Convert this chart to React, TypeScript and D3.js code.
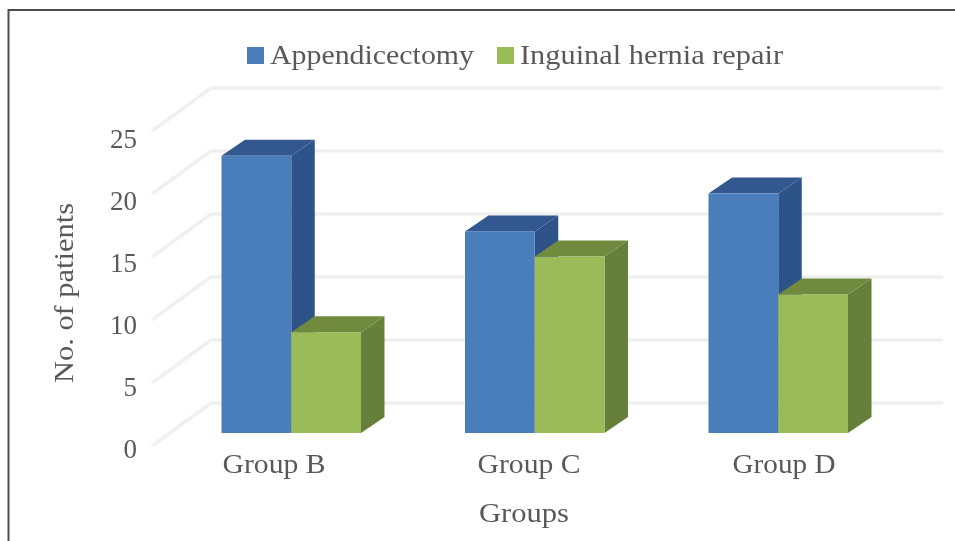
import React from "react";
import * as d3 from "d3";

const categories = ["Group B", "Group C", "Group D"];
const seriesNames = ["Appendicectomy", "Inguinal hernia repair"];
const appendicectomy = [22, 16, 19];
const herniaRepair = [8, 14, 11];
const yTicks = [0, 5, 10, 15, 20, 25];
const frontColors = ["#4a7ebb", "#9bbb59"];
const sideColors = ["#2f5388", "#66803a"];
const topColors = ["#33598f", "#6f8b3e"];

const FONT = "'Liberation Serif', serif";
const TEXT = "#595959";

export default function App() {
  const y = d3.scaleLinear().domain([0, 25]).range([433, 118]);
  const yLabel = d3.scaleLinear().domain([0, 25]).range([458, 148]);
  const x0 = d3.scaleBand<string>().domain(categories).range([169.5, 900]);
  const x1 = d3.scaleBand<string>().domain(seriesNames).range([0, 139.5]);
  const labelX = d3.scalePoint<string>().domain(categories).range([274, 784]);
  const values = [appendicectomy, herniaRepair];
  const dx = 23.5;
  const dy = 16;
  const wallDy = -30;
  const wallX = 211;
  const poly = (pts: number[][]) => d3.line()(pts as [number, number][]) + "Z";

  return (
    <svg width={955} height={541} style={{ position: "absolute", left: 0, top: 0, background: "#fff" }}>
      <defs>
        <filter id="soft"><feGaussianBlur stdDeviation="0.8" /></filter>
        <filter id="softer"><feGaussianBlur stdDeviation="0.4" /></filter>
      </defs>
      <line x1={8} y1={10} x2={955} y2={10} stroke="#4d4d4d" strokeWidth={2} />
      <line x1={8.5} y1={9} x2={8.5} y2={541} stroke="#4d4d4d" strokeWidth={2} />
      <g filter="url(#soft)" stroke="#e2e2e2" strokeWidth={2} fill="none">
        {yTicks.map((t) => (
          <path key={t} d={`M152,${y(t) + wallDy + 43}L${wallX},${y(t) + wallDy}H943`} />
        ))}
      </g>
      <g filter="url(#softer)">
        {categories.map((c, i) =>
          seriesNames.map((s, j) => {
            const xL = (x0(c) as number) + (x0.bandwidth() - 139.5) / 2 + (x1(s) as number);
            const xR = xL + x1.bandwidth();
            const yT = y(values[j][i]);
            const yB = y(0);
            return (
              <g key={c + s}>
                <path d={poly([[xR, yT], [xR + dx, yT - dy], [xR + dx, yB - dy], [xR, yB]])} fill={sideColors[j]} />
                <path d={poly([[xL, yT], [xL + dx, yT - dy], [xR + dx, yT - dy], [xR, yT]])} fill={topColors[j]} />
                <rect x={xL} y={yT} width={xR - xL} height={yB - yT} fill={frontColors[j]} />
              </g>
            );
          })
        )}
      </g>
      <g fontFamily={FONT} fill={TEXT} filter="url(#softer)">
        {yTicks.map((t) => (
          <text key={t} x={137} y={yLabel(t)} textAnchor="end" fontSize={27}>{t}</text>
        ))}
        {categories.map((c) => (
          <text key={c} x={labelX(c)} y={473} textAnchor="middle" fontSize={27} textLength={103} lengthAdjust="spacingAndGlyphs">{c}</text>
        ))}
        <text x={524} y={522} textAnchor="middle" fontSize={27} textLength={90} lengthAdjust="spacingAndGlyphs">Groups</text>
        <text transform="translate(64,293) rotate(-90)" textAnchor="middle" fontSize={27} dy={9} textLength={180} lengthAdjust="spacingAndGlyphs">No. of patients</text>
        <rect x={247} y={47} width={17} height={17} fill={frontColors[0]} />
        <text x={270} y={64} fontSize={28} textLength={204} lengthAdjust="spacingAndGlyphs">{seriesNames[0]}</text>
        <rect x={497} y={47} width={17} height={17} fill={frontColors[1]} />
        <text x={520} y={64} fontSize={28} textLength={263} lengthAdjust="spacingAndGlyphs">{seriesNames[1]}</text>
      </g>
    </svg>
  );
}
